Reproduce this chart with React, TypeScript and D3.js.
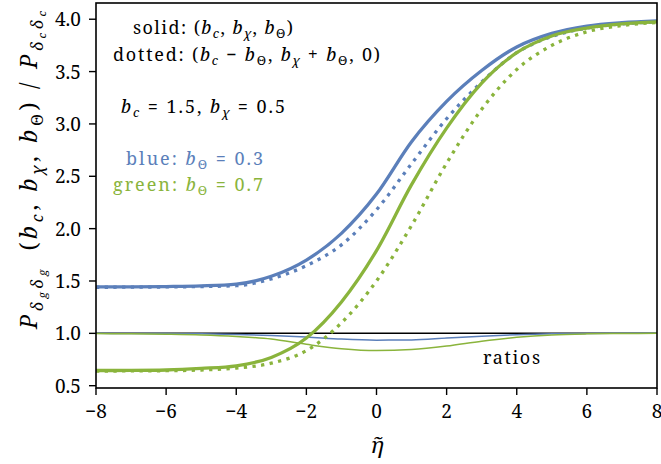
import * as d3 from 'd3'

// values at eta = -8 .. 8
const ETA = [-8, -7, -6, -5, -4, -3, -2, -1, 0, 1, 2, 3, 4, 5, 6, 7, 8]
const BLUE_SOLID = [1.443, 1.444, 1.447, 1.453, 1.47, 1.545, 1.70, 1.955, 2.33, 2.83, 3.215, 3.51, 3.735, 3.865, 3.935, 3.968, 3.985]
const BLUE_DOTTED = [1.44, 1.441, 1.443, 1.447, 1.455, 1.52, 1.647, 1.845, 2.18, 2.62, 3.05, 3.40, 3.68, 3.835, 3.915, 3.955, 3.975]
const GREEN_SOLID = [0.645, 0.646, 0.65, 0.665, 0.69, 0.77, 0.955, 1.30, 1.79, 2.42, 2.96, 3.39, 3.68, 3.84, 3.915, 3.955, 3.975]
const GREEN_DOTTED = [0.64, 0.641, 0.643, 0.65, 0.668, 0.715, 0.835, 1.10, 1.50, 2.03, 2.625, 3.14, 3.52, 3.75, 3.88, 3.94, 3.968]
const BLUE_RATIO = [1.0, 0.999, 0.998, 0.995, 0.99, 0.98, 0.965, 0.945, 0.935, 0.937, 0.955, 0.973, 0.987, 0.995, 0.998, 1.0, 1.0]
const GREEN_RATIO = [0.998, 0.996, 0.992, 0.985, 0.97, 0.945, 0.895, 0.853, 0.835, 0.845, 0.878, 0.925, 0.962, 0.985, 0.995, 0.999, 1.0]

const X_TICKS = [-8, -6, -4, -2, 0, 2, 4, 6, 8]
const Y_TICKS = [0.5, 1.0, 1.5, 2.0, 2.5, 3.0, 3.5, 4.0]

const W = 661
const H = 464
const BLUE = '#5b7fba'
const GREEN = '#8ab43c'
const FONT = 'Noto Serif'

type Part = { t: string; lv?: number; it?: boolean }

// simple math-ish text: level 0 = base, 1 = subscript, 2 = sub-subscript
function math(parts: Part[], fs: number) {
  const off = [0, 0.24 * fs, 0.38 * fs]
  const size = [fs, fs * 0.7, fs * 0.5]
  let cur = 0
  return parts.map((p, i) => {
    const lv = p.lv ?? 0
    const dy = off[lv] - cur
    cur = off[lv]
    return (
      <tspan key={i} dy={dy} fontSize={size[lv]} fontStyle={p.it ? 'italic' : 'normal'}>
        {p.t}
      </tspan>
    )
  })
}

export default function App() {
  const x = d3.scaleLinear().domain([-8, 8]).range([96, 657])
  const y = d3.scaleLinear().domain([0.478, 4.155]).range([388, 3])

  const line = d3
    .line<number>()
    .x((_, i) => x(ETA[i]))
    .y(d => y(d))
    .curve(d3.curveMonotoneX)

  const thick = 3.3
  const ann = 18

  return (
    <svg width={W} height={H} fontFamily={FONT} style={{ position: 'absolute', left: 0, top: 0, background: '#fff' }}>
      <defs>
        <clipPath id="plot">
          <rect x={96} y={3} width={561} height={385} />
        </clipPath>
      </defs>

      <g clipPath="url(#plot)" fill="none">
        <line x1={96} x2={657} y1={y(1)} y2={y(1)} stroke="#000" strokeWidth={1.5} />
        <path d={line(BLUE_RATIO) ?? ''} stroke={BLUE} strokeWidth={1.5} />
        <path d={line(GREEN_RATIO) ?? ''} stroke={GREEN} strokeWidth={1.5} />
        <path d={line(BLUE_SOLID) ?? ''} stroke={BLUE} strokeWidth={thick} />
        <path d={line(BLUE_DOTTED) ?? ''} stroke={BLUE} strokeWidth={thick} strokeDasharray="3.3 5.4" />
        <path d={line(GREEN_SOLID) ?? ''} stroke={GREEN} strokeWidth={thick} />
        <path d={line(GREEN_DOTTED) ?? ''} stroke={GREEN} strokeWidth={thick} strokeDasharray="3.3 5.4" />
      </g>

      {/* frame */}
      <rect x={96} y={3} width={561} height={385} fill="none" stroke="#000" strokeWidth={1.6} />

      {/* x axis */}
      {X_TICKS.map(t => (
        <g key={t}>
          <line x1={x(t)} x2={x(t)} y1={388} y2={395} stroke="#000" strokeWidth={1.4} />
          <text x={x(t)} y={418} textAnchor="middle" fontFamily={FONT} fontSize={19}>
            {t < 0 ? `\u2212${-t}` : t}
          </text>
        </g>
      ))}
      {/* y axis */}
      {Y_TICKS.map(t => (
        <g key={t}>
          <line x1={89} x2={96} y1={y(t)} y2={y(t)} stroke="#000" strokeWidth={1.4} />
          <text x={81} y={y(t) + 7} textAnchor="end" fontFamily={FONT} fontSize={19}>
            {t.toFixed(1)}
          </text>
        </g>
      ))}

      {/* x label */}
      <text x={377} y={453} textAnchor="middle" fontFamily={FONT} fontSize={22} fontStyle="italic">
        {'\u03b7\u0303'}
      </text>

      {/* y label */}
      <text transform="translate(37,170) rotate(-90)" textAnchor="middle" fontFamily={FONT} fontSize={23} textLength={318} lengthAdjust="spacing">
        {math(
          [
            { t: 'P', it: true },
            { t: 'δ', lv: 1, it: true },
            { t: 'g', lv: 2, it: true },
            { t: 'δ', lv: 1, it: true },
            { t: 'g', lv: 2, it: true },
            { t: '\u2002(' },
            { t: 'b', it: true },
            { t: 'c', lv: 1, it: true },
            { t: ', ' },
            { t: 'b', it: true },
            { t: 'χ', lv: 1, it: true },
            { t: ', ' },
            { t: 'b', it: true },
            { t: 'Θ', lv: 1 },
            { t: ') / ' },
            { t: 'P', it: true },
            { t: 'δ', lv: 1, it: true },
            { t: 'c', lv: 2, it: true },
            { t: 'δ', lv: 1, it: true },
            { t: 'c', lv: 2, it: true },
          ],
          23
        )}
      </text>

      {/* annotations */}
      <text x={133} y={34} fontFamily={FONT} fontSize={ann} textLength={160} lengthAdjust="spacing">
        {math(
          [
            { t: 'solid:  (' },
            { t: 'b', it: true },
            { t: 'c', lv: 1, it: true },
            { t: ', ' },
            { t: 'b', it: true },
            { t: 'χ', lv: 1, it: true },
            { t: ', ' },
            { t: 'b', it: true },
            { t: 'Θ', lv: 1 },
            { t: ')' },
          ],
          ann
        )}
      </text>
      <text x={113} y={61} fontFamily={FONT} fontSize={ann} textLength={267} lengthAdjust="spacing">
        {math(
          [
            { t: 'dotted:  (' },
            { t: 'b', it: true },
            { t: 'c', lv: 1, it: true },
            { t: ' \u2212 ' },
            { t: 'b', it: true },
            { t: 'Θ', lv: 1 },
            { t: ', ' },
            { t: 'b', it: true },
            { t: 'χ', lv: 1, it: true },
            { t: ' + ' },
            { t: 'b', it: true },
            { t: 'Θ', lv: 1 },
            { t: ', 0)' },
          ],
          ann
        )}
      </text>
      <text x={121} y={113} fontFamily={FONT} fontSize={ann} textLength={164} lengthAdjust="spacing">
        {math(
          [
            { t: 'b', it: true },
            { t: 'c', lv: 1, it: true },
            { t: ' = 1.5, ' },
            { t: 'b', it: true },
            { t: 'χ', lv: 1, it: true },
            { t: ' = 0.5' },
          ],
          ann
        )}
      </text>
      <text x={126} y={165} fontFamily={FONT} fontSize={ann} fill={BLUE} textLength={137} lengthAdjust="spacing">
        {math(
          [
            { t: 'blue:  ' },
            { t: 'b', it: true },
            { t: 'Θ', lv: 1 },
            { t: ' = 0.3' },
          ],
          ann
        )}
      </text>
      <text x={113} y={191} fontFamily={FONT} fontSize={ann} fill={GREEN} textLength={150} lengthAdjust="spacing">
        {math(
          [
            { t: 'green:  ' },
            { t: 'b', it: true },
            { t: 'Θ', lv: 1 },
            { t: ' = 0.7' },
          ],
          ann
        )}
      </text>
      <text x={483} y={364} fontFamily={FONT} fontSize={ann} textLength={57} lengthAdjust="spacing">
        ratios
      </text>
    </svg>
  )
}
